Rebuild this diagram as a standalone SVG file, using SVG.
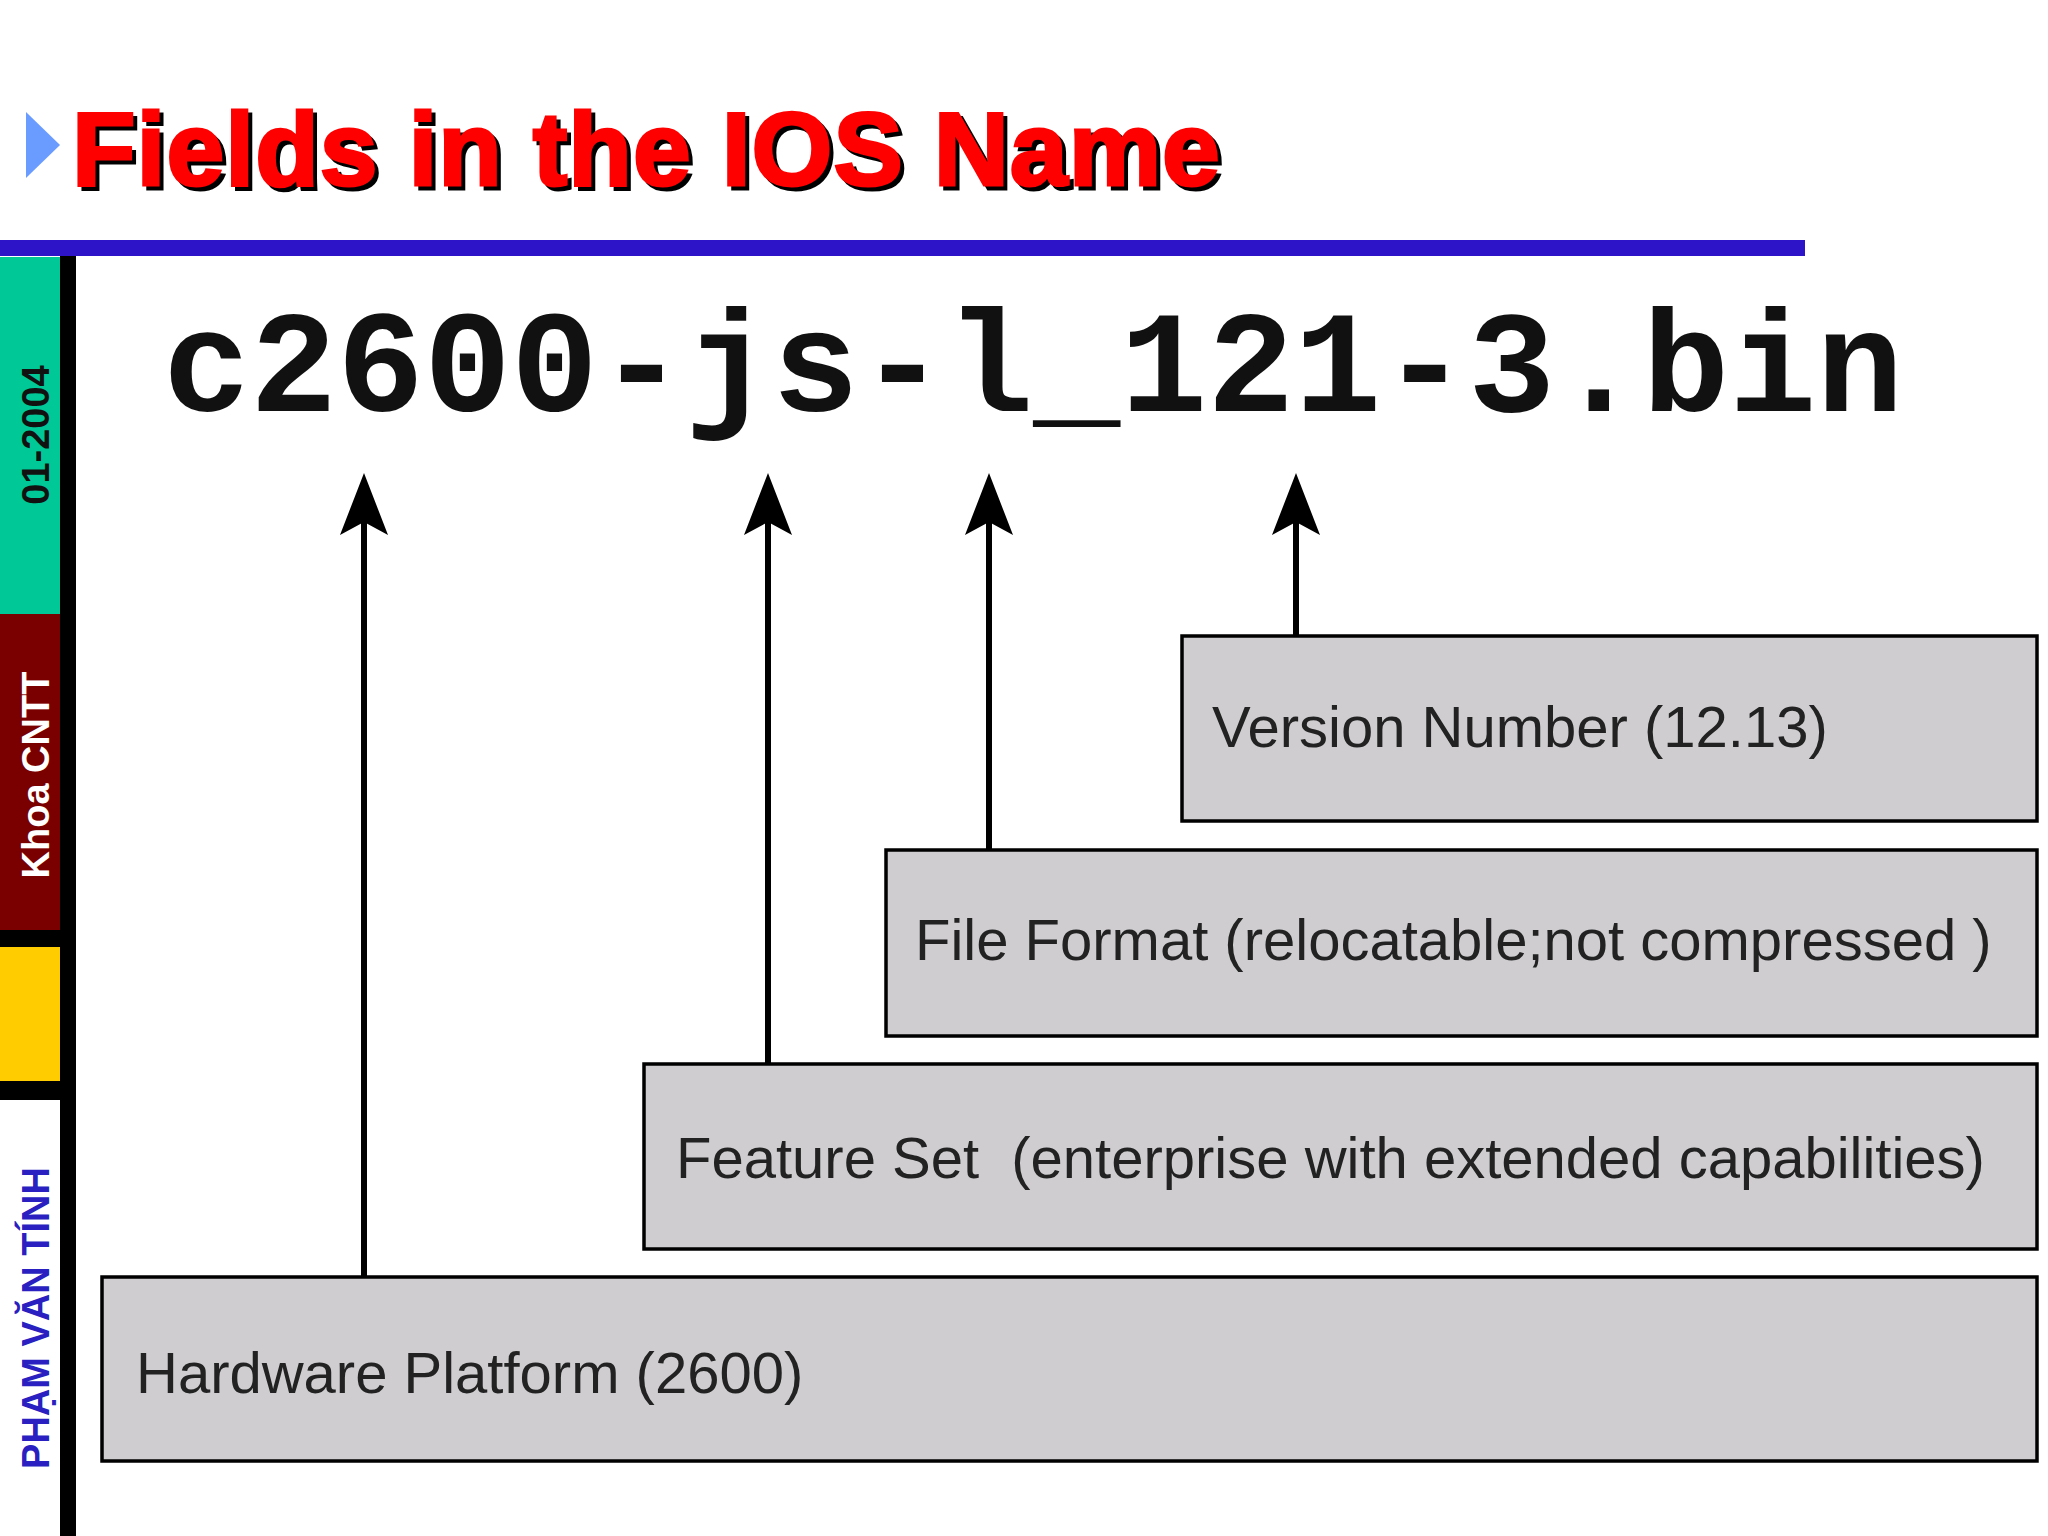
<svg xmlns="http://www.w3.org/2000/svg" width="2048" height="1536" viewBox="0 0 2048 1536">
<style>
.box{fill:#cfcdd0;stroke:#000;stroke-width:3.5}
.lbl{font-family:"Liberation Sans",Arial,sans-serif;font-size:58px;fill:#222}
.side{font-family:"Liberation Sans",Arial,sans-serif;font-size:38px;font-weight:bold}
.arr{stroke:#000;stroke-width:6;fill:none}
.head{fill:#000}
</style>
<rect width="2048" height="1536" fill="#fff"/>
<g id="sidebar">
<rect x="0" y="257" width="60" height="357" fill="#00c896"/>
<rect x="0" y="614" width="60" height="316" fill="#7a0000"/>
<rect x="0" y="930" width="60" height="17" fill="#000"/>
<rect x="0" y="947" width="60" height="134" fill="#ffcc00"/>
<rect x="0" y="1081" width="60" height="19" fill="#000"/>
<rect x="60" y="256" width="16" height="1280" fill="#000"/>
<text class="side" transform="translate(49,435) rotate(-90)" text-anchor="middle" fill="#111">01-2004</text>
<text class="side" transform="translate(49,775) rotate(-90)" text-anchor="middle" fill="#fff">Khoa CNTT</text>
<text class="side" transform="translate(49,1318) rotate(-90)" text-anchor="middle" fill="#2a1fc0">PHẠM VĂN TÍNH</text>
</g>
<g id="title">
<path d="M26,112 L60,145 L26,178 Z" fill="#6a9cff"/>
<text x="76" y="189" font-family="'Liberation Sans',Arial,sans-serif" font-weight="900" font-size="104" fill="#000" stroke="#000" stroke-width="3" letter-spacing="1">Fields in the IOS Name</text>
<text x="72" y="185" font-family="'Liberation Sans',Arial,sans-serif" font-weight="900" font-size="104" fill="#ff0000" stroke="#ff0000" stroke-width="3" letter-spacing="1">Fields in the IOS Name</text>
<rect x="0" y="240" width="1805" height="16" fill="#2e14c8"/>
</g>
<g id="filename">
<text x="163" y="411" font-family="'Liberation Mono','Courier New',monospace" font-weight="bold" font-size="145" fill="#111">c2600-js-l_121-3.bin</text>
</g>
<g id="connectors">
<line class="arr" x1="364" y1="1276" x2="364" y2="510"/>
<path class="head" d="M364,473 L388,535 L364,522 L340,535 Z"/>
<line class="arr" x1="768" y1="1064" x2="768" y2="510"/>
<path class="head" d="M768,473 L792,535 L768,522 L744,535 Z"/>
<line class="arr" x1="989" y1="850" x2="989" y2="510"/>
<path class="head" d="M989,473 L1013,535 L989,522 L965,535 Z"/>
<line class="arr" x1="1296" y1="637" x2="1296" y2="510"/>
<path class="head" d="M1296,473 L1320,535 L1296,522 L1272,535 Z"/>
</g>
<g id="version"><rect class="box" x="1182" y="636" width="855" height="185"/><text class="lbl" x="1212" y="747">Version Number (12.13)</text></g>
<g id="fileformat"><rect class="box" x="886" y="850" width="1151" height="186"/><text class="lbl" x="915" y="960">File Format (relocatable;not compressed )</text></g>
<g id="featureset"><rect class="box" x="644" y="1064" width="1393" height="185"/><text class="lbl" x="676" y="1178" xml:space="preserve">Feature Set  (enterprise with extended capabilities)</text></g>
<g id="hardware"><rect class="box" x="102" y="1277" width="1935" height="184"/><text class="lbl" x="136" y="1393">Hardware Platform (2600)</text></g>
</svg>
